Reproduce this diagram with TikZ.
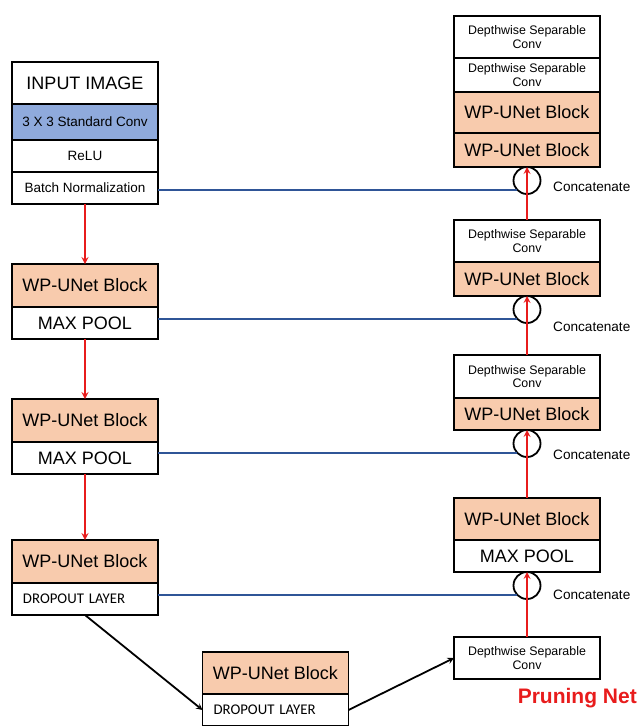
\documentclass[tikz,border=0pt]{standalone}
\usepackage{fontspec}
\setmainfont{Liberation Sans}
\newfontfamily\carlito{Carlito}
\usetikzlibrary{positioning}

\definecolor{wporange}{RGB}{248,203,173}
\definecolor{convblue}{RGB}{143,170,220}
\definecolor{skipblue}{RGB}{47,85,151}
\definecolor{arrred}{RGB}{232,28,28}

\tikzstyle{row}   = [rectangle, draw=black, line width=1.8pt, minimum width=146pt, inner sep=0pt, outer sep=0pt, align=center, fill=white]
\tikzstyle{big}   = [row, font=\fontsize{18}{20}\selectfont]
\tikzstyle{wp}    = [big, fill=wporange, minimum height=43pt]
\tikzstyle{pool}  = [big, minimum height=32pt]
\tikzstyle{small} = [row, minimum height=32pt, font=\fontsize{13.5}{15}\selectfont]
\tikzstyle{drop}  = [row, minimum height=32pt, text width=124pt, align=left, font=\carlito\fontsize{14.8}{16}\selectfont]
\tikzstyle{dsc}   = [row, minimum height=42pt, font=\fontsize{12.4}{13.5}\selectfont]
\tikzstyle{cat}   = [circle, draw=black, line width=1.8pt, minimum size=27pt, inner sep=0pt, outer sep=0pt]
\tikzstyle{lbl}   = [inner sep=0pt, font=\fontsize{13.6}{15}\selectfont]
\tikzstyle{arrow} = [arrred, line width=2pt, ->, >=stealth]
\tikzstyle{flow}  = [black, line width=1.8pt, ->, >=stealth]
\tikzstyle{skip}  = [skipblue, line width=1.4pt]

\begin{document}
\begin{tikzpicture}[x=1pt, y=-1pt]
\useasboundingbox (0,0) rectangle (639,726);

%% Input stage
\node (inp_img) [big, minimum height=42pt, anchor=north] at (85,62) {INPUT IMAGE};
\node (std_conv) [small, fill=convblue, minimum height=36pt, below=0pt of inp_img] {3 X 3 Standard Conv};
\node (relu) [small, below=0pt of std_conv] {ReLU};
\node (bnorm) [small, below=0pt of relu] {Batch Normalization};

%% Encoder
\node (wp_enc1) [wp, below=60pt of bnorm] {WP-UNet Block};
\node (pool_enc1) [pool, below=0pt of wp_enc1] {MAX POOL};
\node (wp_enc2) [wp, below=60pt of pool_enc1] {WP-UNet Block};
\node (pool_enc2) [pool, below=0pt of wp_enc2] {MAX POOL};
\node (wp_enc3) [wp, below=66pt of pool_enc2] {WP-UNet Block};
\node (drop_enc3) [drop, below=0pt of wp_enc3] {DROPOUT LAYER};

%% Bottleneck
\node (wp_bot) [wp, minimum height=42pt, anchor=north] at (275.5,652) {WP-UNet Block};
\node (drop_bot) [drop, below=0pt of wp_bot] {DROPOUT LAYER};

%% Decoder
\node (dsc_dec1a) [dsc, anchor=north] at (527,16) {Depthwise Separable\\Conv};
\node (dsc_dec1b) [dsc, minimum height=34pt, below=0pt of dsc_dec1a] {Depthwise Separable\\Conv};
\node (wp_dec1a) [wp, minimum height=41pt, below=0pt of dsc_dec1b] {WP-UNet Block};
\node (wp_dec1b) [wp, minimum height=34pt, below=0pt of wp_dec1a] {WP-UNet Block};
\node (cat1) [cat, below=0pt of wp_dec1b] {};

\node (dsc_dec2) [dsc, below=53pt of wp_dec1b] {Depthwise Separable\\Conv};
\node (wp_dec2) [wp, minimum height=34pt, below=0pt of dsc_dec2] {WP-UNet Block};
\node (cat2) [cat, below=0pt of wp_dec2] {};

\node (dsc_dec3) [dsc, minimum height=43pt, below=59pt of wp_dec2] {Depthwise Separable\\Conv};
\node (wp_dec3) [wp, minimum height=32pt, below=0pt of dsc_dec3] {WP-UNet Block};
\node (cat3) [cat, below=0pt of wp_dec3] {};

\node (wp_dec4) [wp, minimum height=42pt, below=68pt of wp_dec3] {WP-UNet Block};
\node (pool_dec4) [pool, below=0pt of wp_dec4] {MAX POOL};
\node (cat4) [cat, below=0pt of pool_dec4] {};

\node (dsc_out) [dsc, below=65pt of pool_dec4] {Depthwise Separable\\Conv};

%% Labels
\node (lbl_cat1) [lbl, right=12.5pt of cat1, yshift=-6.5pt] {Concatenate};
\node (lbl_cat2) [lbl, right=12.5pt of cat2, yshift=-17.5pt] {Concatenate};
\node (lbl_cat3) [lbl, right=12.5pt of cat3, yshift=-11.5pt] {Concatenate};
\node (lbl_cat4) [lbl, right=12.5pt of cat4, yshift=-9.5pt] {Concatenate};
\node (prn_net) [inner sep=0pt, anchor=east, text=arrred, font=\bfseries\fontsize{21}{24}\selectfont] at (637,698) {Pruning Net};

%% Skip connections
\draw [skip] (cat1.225) -- (cat1.225 -| bnorm.east);
\draw [skip] (cat2.225) -- (cat2.225 -| pool_enc1.east);
\draw [skip] (cat3.225) -- (cat3.225 -| pool_enc2.east);
\draw [skip] (cat4.225) -- (cat4.225 -| drop_enc3.east);

%% Arrows
\draw [arrow] (bnorm) -- (wp_enc1);
\draw [arrow] (pool_enc1) -- (wp_enc2);
\draw [arrow] (pool_enc2) -- (wp_enc3);

\draw [flow] (drop_enc3.south) -- (drop_bot.west);
\draw [flow] (drop_bot.east) -- (dsc_out.west);

\draw [arrow] (dsc_out) -- (pool_dec4);
\draw [arrow] (wp_dec4) -- (wp_dec3);
\draw [arrow] (dsc_dec3) -- (wp_dec2);
\draw [arrow] (dsc_dec2) -- (wp_dec1b);
\end{tikzpicture}
\end{document}
